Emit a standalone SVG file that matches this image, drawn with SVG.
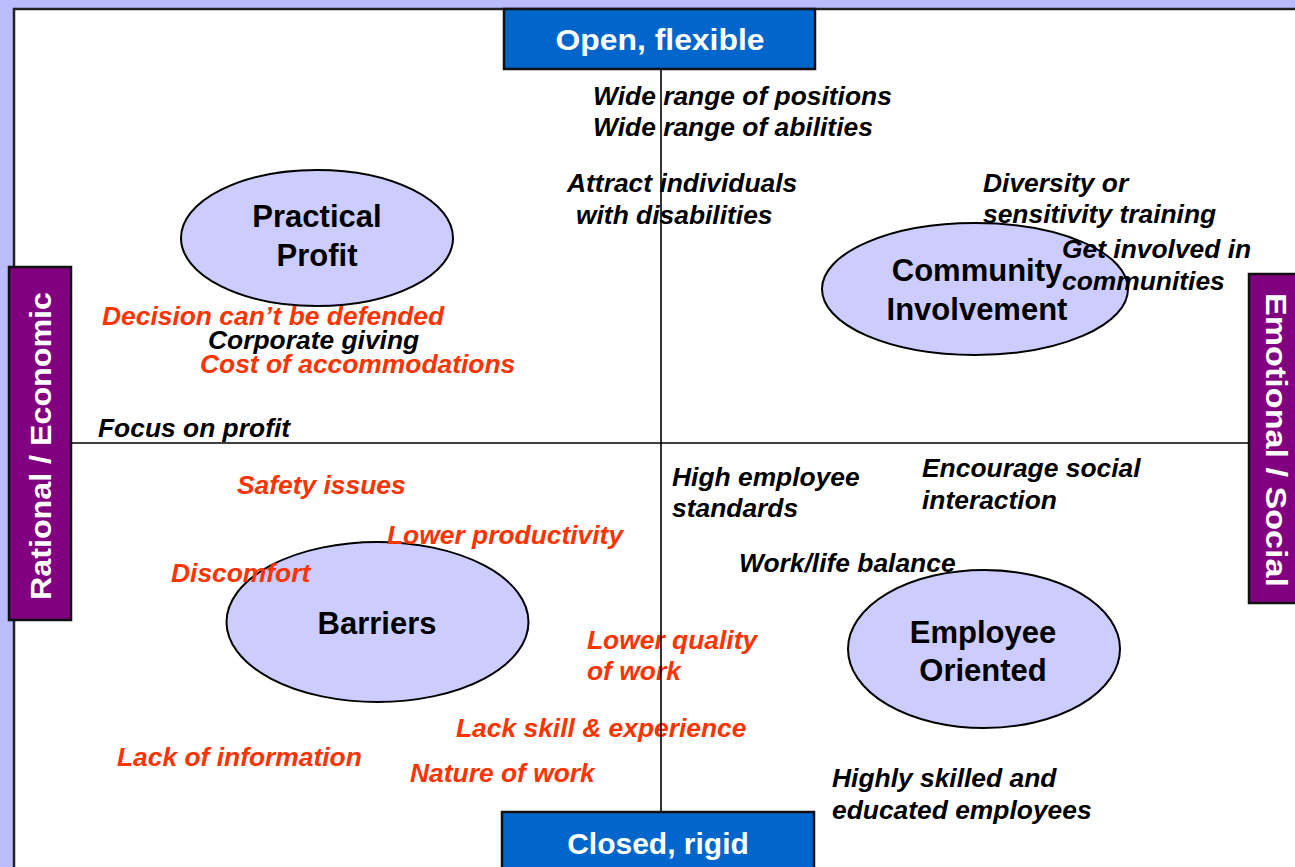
<svg xmlns="http://www.w3.org/2000/svg" width="1295" height="867" viewBox="0 0 1295 867">
<style>
.bg{fill:#BBBBFF}
.panel{fill:#FFFFFF;stroke:#222;stroke-width:2.5}
.blue{fill:#0066CC;stroke:#111;stroke-width:2.5}
.purple{fill:#800080;stroke:#111;stroke-width:2.5}
.ell{fill:#CCCCFF;stroke:#000;stroke-width:2}
.axis{stroke:#000;stroke-width:1.6;fill:none}
.lbl{font-family:"Liberation Sans",Arial,sans-serif;font-weight:bold;font-size:31px;fill:#000;text-anchor:middle}
.wlbl{font-family:"Liberation Sans",Arial,sans-serif;font-weight:bold;font-size:30px;fill:#FFFFFF;text-anchor:middle}
.it{font-family:"Liberation Sans",Arial,sans-serif;font-weight:bold;font-style:italic;font-size:26.4px;fill:#000}
.red{fill:#FF3300}
</style>
<rect class="bg" x="0" y="0" width="1295" height="867"/>
<rect class="panel" x="14" y="9" width="1300" height="880"/>

<g id="node-open">
<rect class="blue" x="504" y="9" width="311" height="60"/>
<text class="wlbl" x="660" y="50" textLength="209" lengthAdjust="spacingAndGlyphs">Open, flexible</text>
</g>
<g id="node-closed">
<rect class="blue" x="502" y="812" width="312" height="70"/>
<text class="wlbl" x="658" y="854">Closed, rigid</text>
</g>
<g id="node-rational">
<rect class="purple" x="9" y="267" width="62" height="353"/>
<text class="wlbl" transform="translate(51,446) rotate(-90)" textLength="308" lengthAdjust="spacingAndGlyphs">Rational / Economic</text>
</g>
<g id="node-emotional">
<rect class="purple" x="1249" y="274" width="60" height="329"/>
<text class="wlbl" transform="translate(1266,440) rotate(90)" textLength="294" lengthAdjust="spacingAndGlyphs">Emotional / Social</text>
</g>

<g id="node-practical">
<ellipse class="ell" cx="317" cy="238" rx="136" ry="68"/>
<text class="lbl" x="317" y="227">Practical</text>
<text class="lbl" x="317" y="266">Profit</text>
</g>
<g id="node-community">
<ellipse class="ell" cx="975" cy="289" rx="153" ry="66"/>
<text class="lbl" x="977" y="281">Community</text>
<text class="lbl" x="977" y="320">Involvement</text>
</g>
<g id="node-barriers">
<ellipse class="ell" cx="377.5" cy="622" rx="151" ry="80"/>
<text class="lbl" x="377" y="634">Barriers</text>
</g>
<g id="node-employee">
<ellipse class="ell" cx="984" cy="649" rx="136" ry="79"/>
<text class="lbl" x="983" y="643">Employee</text>
<text class="lbl" x="983" y="681">Oriented</text>
</g>

<g id="node-texts">
<text class="it" x="593" y="105">Wide range of positions</text>
<text class="it" x="593" y="136">Wide range of abilities</text>
<text class="it" x="567" y="192">Attract individuals</text>
<text class="it" x="576" y="224">with disabilities</text>
<text class="it" x="983" y="192">Diversity or</text>
<text class="it" x="983" y="223">sensitivity training</text>
<text class="it" x="1062" y="258">Get involved in</text>
<text class="it" x="1062" y="290">communities</text>
<text class="it red" x="102" y="325">Decision can’t be defended</text>
<text class="it" x="208" y="349">Corporate giving</text>
<text class="it red" x="200" y="373">Cost of accommodations</text>
<text class="it" x="98" y="437">Focus on profit</text>
<text class="it red" x="237" y="494">Safety issues</text>
<text class="it red" x="387" y="544">Lower productivity</text>
<text class="it red" x="171" y="582">Discomfort</text>
<text class="it red" x="587" y="649">Lower quality</text>
<text class="it red" x="587" y="680">of work</text>
<text class="it" x="672" y="486">High employee</text>
<text class="it" x="672" y="517">standards</text>
<text class="it" x="922" y="477">Encourage social</text>
<text class="it" x="922" y="509">interaction</text>
<text class="it" x="739" y="572">Work/life balance</text>
<text class="it red" x="456" y="737">Lack skill &amp; experience</text>
<text class="it red" x="117" y="766">Lack of information</text>
<text class="it red" x="410" y="782">Nature of work</text>
<text class="it" x="832" y="787">Highly skilled and</text>
<text class="it" x="832" y="819">educated employees</text>
</g>

<g id="connectors">
<line class="axis" x1="71" y1="443" x2="1249" y2="443"/>
<line class="axis" x1="661" y1="69" x2="661" y2="812"/>
</g>
</svg>
